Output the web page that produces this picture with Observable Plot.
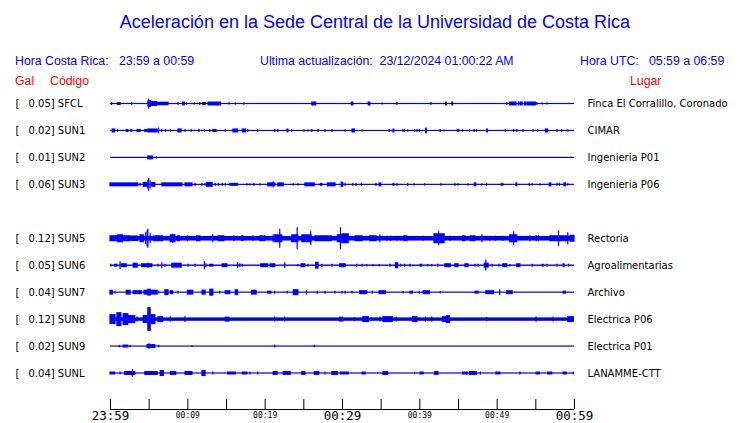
<!DOCTYPE html>
<html>
<head>
<meta charset="utf-8">
<script src="https://cdn.jsdelivr.net/npm/d3@7"></script>
<script src="https://cdn.jsdelivr.net/npm/@observablehq/plot@0.6"></script>
<style>
  html, body { margin: 0; padding: 0; background: #fff; }
  #page { position: relative; width: 740px; height: 423px; overflow: hidden; }
  .t { position: absolute; white-space: pre; font-family: "Liberation Sans", Arial, sans-serif; }
  #title { left: 5px; width: 740px; text-align: center; top: 13px; font-size: 18px; line-height: 18px; color: #0000ff; }
  .hdr { top: 55px; font-size: 12.3px; line-height: 12px; color: #0000ff; }
  .red { top: 74.5px; font-size: 12.3px; line-height: 12px; color: #ff0000; }
  #chart { position: absolute; left: 0; top: 88px; }
</style>
</head>
<body>
<div id="page">
  <div id="title" class="t">Aceleración en la Sede Central de la Universidad de Costa Rica</div>
  <div class="t hdr" style="left:15px">Hora Costa Rica:   23:59 a 00:59</div>
  <div class="t hdr" style="left:260px">Ultima actualización:  23/12/2024 01:00:22 AM</div>
  <div class="t hdr" style="left:580px">Hora UTC:   05:59 a 06:59</div>
  <div class="t red" style="left:15px">Gal</div>
  <div class="t red" style="left:50px">Código</div>
  <div class="t red" style="left:630px">Lugar</div>
  <div id="chart"></div>
</div>
<script>
// ---- data ----
const codes = ["SFCL", "SUN1", "SUN2", "SUN3", "SUN5", "SUN6", "SUN7", "SUN8", "SUN9", "SUNL"];
const gal = ["0.05", "0.02", "0.01", "0.06", "0.12", "0.05", "0.04", "0.12", "0.02", "0.04"];
const lugar = ["Finca El Corralillo, Coronado", "CIMAR", "Ingenieria P01", "Ingenieria P06",
  "Rectoria", "Agroalimentarias", "Archivo", "Electrica P06", "Electrica P01", "LANAMME-CTT"];
const slots = [0, 1, 2, 3, 5, 6, 7, 8, 9, 10];           // row index (SUN4 missing)
const noise = [0.006, 0.006, 0.006, 0.006, 0.023, 0.007, 0.006, 0.017, 0.006, 0.006]; // background level (Gal)
const tickMinutes = [0, 5, 10, 15, 20, 25, 30, 35, 40, 45, 50, 55, 60];
const tickLabels = ["23:59", "", "00:09", "", "00:19", "", "00:29", "", "00:39", "", "00:49", "", "00:59"];
const bigTicks = ["23:59", "00:29", "00:59"];

// bursts: [start minute, end minute, peak amplitude (Gal)] — minutes after 23:59
const SFCL = [[0.2,0.2,0.015],[1.0,1.3,0.015],[2.8,2.8,0.012],[4.9,4.9,0.03],[5.0,5.0,0.05],[5.1,5.2,0.035],
 [5.2,6.0,0.025],[6.0,7.5,0.018],[8.8,8.8,0.015],[9.4,9.6,0.02],[9.9,9.9,0.015],[10.9,10.9,0.012],[11.6,11.6,0.015],
 [12.0,12.3,0.015],[12.7,14.3,0.02],[15.4,15.4,0.012],[16.2,16.2,0.012],[17.3,17.3,0.012],[26.1,26.6,0.02],
 [31.2,31.4,0.02],[33.4,33.6,0.02],[35.2,35.2,0.01],[37.1,37.1,0.015],[41.5,41.5,0.015],[43.4,43.5,0.02],[44.2,44.3,0.02],
 [51.3,51.3,0.015],[51.7,52.5,0.02],[52.8,52.9,0.02],[53.1,53.3,0.02],[53.6,53.8,0.02],[54.0,55.0,0.02],[55.2,55.2,0.015],
 [55.9,55.9,0.01],[56.5,56.5,0.01]];
const SUN1 = [[0.3,0.6,0.02],[1.0,1.0,0.015],[2.1,2.3,0.015],[2.7,2.8,0.015],[3.5,3.9,0.015],[4.5,4.8,0.015],[4.9,6.1,0.02],
 [6.3,6.3,0.03],[6.7,6.7,0.015],[7.2,7.2,0.015],[7.8,7.8,0.015],[8.8,9.2,0.02],[9.7,9.7,0.015],[10.5,10.5,0.015],
 [11.5,11.5,0.015],[12.2,12.2,0.015],[12.9,12.9,0.015],[13.3,13.7,0.015],[14.9,14.9,0.012],[15.9,16.5,0.02],[17.1,17.5,0.02],
 [17.8,17.8,0.015],[19.1,19.1,0.015],[21.3,21.3,0.015],[21.7,21.7,0.015],[22.9,23.0,0.02],[23.5,23.5,0.015],[25.1,25.1,0.012],
 [25.6,25.6,0.012],[26.1,26.1,0.015],[26.9,26.9,0.015],[27.8,27.8,0.015],[28.7,28.7,0.015],[30.4,30.4,0.012],[31.3,31.6,0.02],
 [32.6,32.6,0.01],[36.1,36.1,0.015],[36.6,36.7,0.02],[37.9,37.9,0.015],[38.1,38.1,0.015],[38.5,38.5,0.01],[39.4,39.4,0.012],
 [39.7,39.7,0.015],[40.0,40.0,0.015],[40.8,40.9,0.028],[42.7,42.7,0.015],[43.2,43.2,0.01],[44.9,44.9,0.015],[45.1,45.1,0.015],
 [45.6,45.6,0.012],[46.5,46.5,0.015],[47.1,47.1,0.015],[47.4,47.4,0.015],[48.7,48.8,0.02],[51.1,51.1,0.015],[52.2,52.2,0.015],
 [52.6,52.6,0.015],[53.4,53.4,0.015],[54.7,54.7,0.012],[55.3,55.3,0.015],[56.3,56.6,0.02],[57.8,57.8,0.015],[58.4,58.4,0.015],
 [59.2,59.2,0.012]];
const SUN2 = [[4.9,5.5,0.02],[6.0,6.0,0.012]];
const SUN3 = [[0,3.6,0.02],[3.9,3.9,0.015],[4.3,4.8,0.025],[4.9,4.9,0.045],[5.0,5.0,0.065],[5.2,5.2,0.04],[5.4,5.8,0.025],
 [6.7,9.3,0.02],[9.7,10.6,0.02],[11.0,11.0,0.015],[11.9,11.9,0.015],[12.3,12.3,0.015],[12.5,13.2,0.025],[13.6,13.6,0.015],
 [14.0,14.0,0.015],[14.5,14.5,0.015],[14.9,14.9,0.015],[15.5,16.5,0.015],[17.7,17.7,0.012],[18.1,18.1,0.012],[18.6,18.6,0.015],
 [19.4,19.4,0.012],[20.4,21.3,0.02],[21.1,21.1,0.03],[21.7,22.4,0.02],[23.7,23.7,0.012],[24.3,24.3,0.012],[25.2,26.4,0.02],
 [27.2,27.4,0.015],[28.1,29.1,0.02],[29.9,29.9,0.03],[30.0,30.1,0.025],[30.4,30.4,0.015],[31.4,31.4,0.015],[31.8,31.8,0.015],
 [32.5,32.5,0.015],[34.4,34.4,0.015],[34.8,35.0,0.02],[36.6,36.7,0.015],[37.1,37.1,0.015],[38.5,38.5,0.015],[39.3,39.3,0.012],
 [40.7,40.7,0.012],[42.8,42.8,0.015],[44.6,44.6,0.015],[45.0,45.0,0.012],[46.3,46.3,0.012],[47.1,47.3,0.02],[48.1,48.1,0.012],
 [48.7,48.7,0.015],[50.6,50.6,0.015],[50.8,50.8,0.015],[52.5,52.6,0.02],[54.2,54.2,0.015],[54.6,54.6,0.012],[55.6,55.6,0.012],
 [56.8,57.0,0.02],[57.8,57.8,0.015],[58.1,58.1,0.015],[58.7,58.9,0.02],[59.2,59.2,0.012]];
const SUN5 = [[0,0.9,0.03],[1.0,1.6,0.04],[1.7,2.6,0.03],[2.8,3.5,0.028],[3.9,4.3,0.04],[4.6,4.6,0.06],[4.8,4.8,0.08],
 [4.9,4.9,0.095],[5.2,5.2,0.05],[5.6,5.6,0.03],[5.8,6.8,0.03],[7.8,8.4,0.04],[8.1,8.1,0.045],[8.7,9.0,0.03],[10.0,10.0,0.03],
 [11.2,11.6,0.03],[13.3,13.3,0.04],[14.0,14.7,0.03],[16.0,16.0,0.028],[17.0,17.2,0.028],[18.5,18.5,0.028],[19.4,20.0,0.03],
 [21.1,21.1,0.04],[21.3,22.2,0.04],[21.95,21.95,0.095],[23.5,24.3,0.04],[24.2,24.2,0.11],[24.8,26.0,0.04],[25.95,25.95,0.07],
 [26.5,28.6,0.03],[29.4,30.5,0.04],[29.8,29.8,0.11],[30.0,30.8,0.05],[31.7,32.6,0.03],[33.6,34.4,0.03],[34.9,34.9,0.04],
 [35.8,35.8,0.025],[36.3,36.3,0.025],[37.1,37.1,0.025],[37.6,37.6,0.025],[38.0,38.4,0.03],[40.5,40.5,0.025],[41.9,43.2,0.05],
 [42.5,42.5,0.07],[44.0,44.0,0.025],[45.6,45.9,0.03],[46.6,47.2,0.03],[48.1,48.1,0.04],[49.1,49.1,0.025],[49.8,49.8,0.025],
 [50.8,50.8,0.025],[51.7,52.6,0.04],[52.2,52.2,0.07],[54.3,54.3,0.03],[55.1,55.1,0.03],[55.4,55.4,0.03],[56.9,59.2,0.03],
 [58.0,58.0,0.08],[59.2,59.2,0.06],[59.5,60,0.035]];
const SUN6 = [[0.1,0.1,0.015],[0.6,0.9,0.015],[1.3,1.3,0.04],[1.5,2.1,0.02],[3.0,3.5,0.025],[4.1,5.4,0.02],[4.9,4.9,0.025],
 [6.2,6.2,0.015],[6.7,6.7,0.03],[7.1,7.1,0.015],[8.0,9.2,0.025],[10.1,10.1,0.015],[11.0,11.0,0.015],[12.2,12.2,0.04],
 [12.4,12.4,0.02],[12.9,13.3,0.015],[14.5,15.1,0.02],[16.5,16.5,0.03],[16.8,16.8,0.02],[17.1,17.1,0.015],[19.5,20.4,0.02],
 [20.7,21.3,0.02],[22.6,22.6,0.03],[24.3,24.3,0.012],[24.7,25.2,0.02],[25.6,25.6,0.015],[26.6,26.9,0.035],[27.4,27.4,0.015],
 [28.7,28.7,0.015],[29.7,30.4,0.02],[31.9,31.9,0.015],[32.6,32.6,0.015],[33.2,33.2,0.012],[34.0,34.0,0.012],[34.8,34.8,0.012],
 [36.2,36.2,0.015],[36.9,37.2,0.03],[37.6,37.6,0.015],[38.1,38.1,0.015],[38.8,38.8,0.015],[40.1,40.3,0.015],[41.1,41.1,0.012],
 [41.6,41.6,0.012],[42.4,42.4,0.015],[43.3,44.0,0.02],[44.6,45.0,0.02],[45.9,46.3,0.02],[47.2,47.2,0.015],[47.6,47.6,0.015],
 [48.4,48.9,0.025],[48.6,48.6,0.055],[49.4,49.4,0.015],[50.3,50.3,0.015],[50.8,51.3,0.02],[51.7,51.7,0.012],[52.6,53.0,0.02],
 [54.6,54.6,0.015],[55.9,56.0,0.015],[56.5,56.5,0.015],[57.8,57.8,0.015],[58.6,58.7,0.02],[59.3,59.3,0.015]];
const SUN7 = [[0,0.3,0.025],[0.65,0.65,0.015],[2.1,2.6,0.025],[3.0,4.1,0.02],[4.4,6.1,0.025],[4.9,5.2,0.035],[6.3,6.3,0.015],
 [7.1,7.5,0.03],[7.8,8.1,0.02],[8.8,8.8,0.015],[10.0,10.7,0.025],[11.9,12.3,0.025],[12.9,13.3,0.035],[14.2,14.2,0.015],
 [14.9,15.5,0.02],[16.2,16.5,0.03],[18.3,18.9,0.025],[20.4,20.8,0.015],[21.3,21.3,0.015],[22.9,22.9,0.015],[23.7,24.3,0.03],
 [25.4,25.4,0.025],[26.8,26.8,0.015],[27.8,27.8,0.015],[29.1,29.1,0.015],[30.0,30.0,0.015],[30.4,30.4,0.015],[31.3,31.3,0.015],
 [32.3,33.2,0.02],[33.9,33.9,0.015],[34.8,35.6,0.02],[37.9,37.9,0.012],[38.8,39.1,0.015],[40.0,40.0,0.015],[40.5,41.3,0.02],
 [42.7,42.7,0.012],[47.2,47.6,0.015],[48.6,49.6,0.02],[50.4,50.4,0.03],[51.3,52.0,0.02],[58.6,58.9,0.015]];
const SUN8 = [[0,0.65,0.05],[0.9,1.4,0.07],[1.7,2.3,0.06],[2.3,3.2,0.04],[3.5,3.5,0.025],[4.3,4.8,0.04],[4.9,5.2,0.12],
 [5.3,5.8,0.05],[6.2,6.8,0.03],[7.8,7.8,0.025],[9.7,9.7,0.03],[14.9,15.4,0.025],[21.3,21.3,0.025],[22.6,22.6,0.025],
 [29.7,30.1,0.025],[31.6,31.6,0.02],[32.7,33.4,0.03],[34.9,34.9,0.025],[35.3,36.5,0.03],[37.0,37.0,0.025],[39.1,39.7,0.03],
 [40.8,40.8,0.025],[41.6,41.6,0.025],[43.0,43.4,0.03],[43.5,43.9,0.04],[48.7,48.7,0.02],[55.1,55.1,0.025],[57.3,57.3,0.025],
 [59.2,59.9,0.03]];
const SUN9 = [[1.2,1.2,0.012],[1.7,2.3,0.015],[2.6,2.6,0.012],[4.8,5.8,0.02],[5.0,5.1,0.025],[6.3,6.3,0.012],[10.6,10.6,0.01],
 [21.3,21.3,0.015],[26.4,26.4,0.012]];
const SUNL = [[0,0.6,0.015],[1.3,1.3,0.015],[1.9,3.2,0.02],[2.9,2.9,0.04],[4.5,6.1,0.02],[6.5,6.9,0.03],[7.8,8.5,0.02],
 [9.7,10.6,0.02],[11.9,12.3,0.03],[13.3,13.3,0.015],[15.2,16.2,0.015],[17.1,17.7,0.015],[18.1,18.1,0.015],[19.1,19.1,0.015],
 [21.1,21.6,0.02],[22.4,23.3,0.02],[24.8,25.2,0.02],[26.4,27.0,0.02],[27.8,27.8,0.015],[28.7,29.4,0.02],[29.8,30.8,0.015],
 [32.6,33.0,0.015],[34.6,34.6,0.01],[35.3,35.9,0.02],[39.4,39.4,0.012],[40.1,40.5,0.015],[42.0,42.4,0.02],[45.6,46.2,0.015],
 [46.5,47.4,0.02],[47.9,47.9,0.015],[49.9,50.4,0.015],[53.0,53.0,0.015],[55.1,55.5,0.015],[56.6,57.1,0.015],[58.6,59.0,0.015],
 [59.9,59.9,0.015]];
const bursts = [SFCL, SUN1, SUN2, SUN3, SUN5, SUN6, SUN7, SUN8, SUN9, SUNL];

// ---- layout ----
const W = 740, H = 335;
const rowPx = 26.95, firstRowPx = 15.5, axisPx = 321;
const gain = 100 / rowPx;                 // 1 Gal = 100 px, expressed in row units
const yDomain = [-firstRowPx / rowPx, (H - firstRowPx) / rowPx];
const axisY = (axisPx - firstRowPx) / rowPx;
const tickLen = 10 / rowPx;

const rows = codes.map((c, i) => ({code: c, gal: gal[i], lugar: lugar[i], slot: slots[i], noise: noise[i]}));
const segs = [];
bursts.forEach((arr, i) => arr.forEach(([t0, t1, a]) => segs.push({t0, t1, a, slot: slots[i]})));
const ticks = tickMinutes.map((m, i) => ({m, label: tickLabels[i], big: bigTicks.includes(tickLabels[i])}));

const chart = Plot.plot({
  width: W, height: H,
  marginTop: 0, marginBottom: 0, marginLeft: 110, marginRight: 166,
  x: {domain: [0, 60], axis: null},
  y: {domain: yDomain, range: [0, H], axis: null},
  style: {background: "transparent", overflow: "visible"},
  marks: [
    // background trace level
    Plot.rect(rows, {x1: 0, x2: 60, y1: d => d.slot - Math.max(d.noise * gain, 0.0225), y2: d => d.slot + Math.max(d.noise * gain, 0.0225), fill: "#0000ff"}),
    // bursts
    Plot.rect(segs, {x1: "t0", x2: "t1", y1: d => d.slot - d.a * gain, y2: d => d.slot + d.a * gain,
      fill: "#0000ff", insetLeft: -0.6, insetRight: -0.6}),
    // left labels
    Plot.text(rows, {x: 0, y: "slot", text: () => "[", dx: -95, textAnchor: "start", fontSize: 10, fontFamily: "DejaVu Sans", fill: "#000"}),
    Plot.text(rows, {x: 0, y: "slot", text: d => d.gal + "] " + d.code, dx: -82, textAnchor: "start", fontSize: 10, fontFamily: "DejaVu Sans", fill: "#000"}),
    // right labels
    Plot.text(rows, {x: 60, y: "slot", text: "lugar", dx: 13, textAnchor: "start", fontSize: 10, fontFamily: "DejaVu Sans", fill: "#000"}),
    // time axis
    Plot.ruleY([axisY], {x1: 0, x2: 60, stroke: "#000", strokeWidth: 1}),
    Plot.ruleX(ticks, {x: "m", y1: axisY, y2: axisY - tickLen, stroke: "#000", strokeWidth: 1}),
    Plot.text(ticks.filter(d => d.big), {x: "m", y: axisY, text: "label", dy: 6.5, fontSize: 12.5, fontFamily: "DejaVu Sans Mono", fill: "#000"}),
    Plot.text(ticks.filter(d => !d.big && d.label), {x: "m", y: axisY, text: "label", dy: 6, fontSize: 8, fontFamily: "DejaVu Sans Mono", fill: "#000"})
  ]
});
document.getElementById("chart").appendChild(chart);
</script>
</body>
</html>
